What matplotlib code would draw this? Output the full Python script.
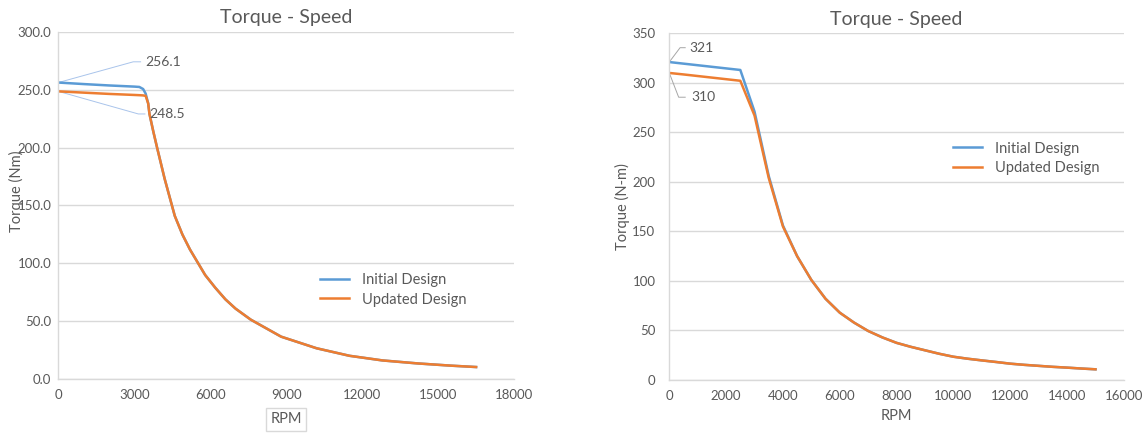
"""Torque-speed curves: initial vs. updated motor design, two operating envelopes."""

import matplotlib
matplotlib.use("Agg")
import matplotlib.pyplot as plt

# ── Data ──────────────────────────────────────────────────────────────────────

# Left envelope (smooth Excel-style curve)
rpm_a = [0, 1000, 2000, 3000, 3200, 3350, 3450, 3550, 3600, 3750, 3900, 4200,
         4600, 4900, 5200, 5800, 6200, 6600, 7000, 7600, 8800, 10200, 11500,
         12800, 14200, 15500, 16500]
initial_a = [256.1, 254.8, 253.6, 252.6, 252.3, 250.5, 246.5, 238.0, 229.0,
             214.0, 200.0, 173.0, 141.0, 125.0, 112.0, 90.0, 79.0, 69.0, 61.0,
             51.5, 36.8, 26.8, 20.3, 16.3, 13.7, 11.8, 10.6]
updated_a = [248.5, 247.4, 246.3, 245.4, 245.2, 245.0, 244.6, 238.0, 229.0,
             214.0, 200.0, 173.0, 141.0, 125.0, 112.0, 90.0, 79.0, 69.0, 61.0,
             51.5, 36.8, 26.8, 20.3, 16.3, 13.7, 11.8, 10.6]

# Right envelope (500 rpm steps)
rpm_b = [0, 500, 1000, 1500, 2000, 2500, 3000, 3500, 4000, 4500, 5000, 5500,
         6000, 6500, 7000, 7500, 8000, 8500, 9000, 9500, 10000, 10500, 11000,
         11500, 12000, 12500, 13000, 13500, 14000, 14500, 15000]
initial_b = [321, 319.4, 317.8, 316.2, 314.6, 313, 271, 206, 156, 125, 101,
             82, 68, 58, 49.5, 43, 37.5, 33.5, 30, 26.5, 23.5, 21.5, 19.8,
             18.2, 16.5, 15.3, 14.3, 13.3, 12.5, 11.6, 10.8]
updated_b = [310, 308.5, 306.9, 305.3, 303.7, 302.1, 267, 204, 155, 125, 101,
             82, 68, 58, 49.5, 43, 37.5, 33.5, 30, 26.5, 23.5, 21.5, 19.8,
             18.2, 16.5, 15.3, 14.3, 13.3, 12.5, 11.6, 10.8]

SERIES = ["Initial Design", "Updated Design"]
BLUE = "#5B9BD5"
ORANGE = "#ED7D31"
GRID = "#D9D9D9"
TEXT = "#595959"

plt.rcParams["font.family"] = ["Lato", "DejaVu Sans"]


def style_axes(ax):
    for side in ("top", "right"):
        ax.spines[side].set_visible(False)
    for side in ("left", "bottom"):
        ax.spines[side].set_color(GRID)
        ax.spines[side].set_linewidth(1.0)
    ax.grid(axis="y", color=GRID, linewidth=1.0)
    ax.set_axisbelow(True)
    ax.tick_params(length=0, labelsize=9.5, labelcolor=TEXT)
    ax.set_title("Torque - Speed", fontsize=14, color=TEXT, pad=6)


def leader(ax, label, xy, elbow, end, text_xy, color):
    ax.plot([xy[0], elbow[0], end[0]], [xy[1], elbow[1], end[1]],
            color=color, linewidth=0.7, zorder=1)
    ax.text(text_xy[0], text_xy[1], label, fontsize=10, color=TEXT,
            va="center", ha="left")


fig = plt.figure(figsize=(11.48, 4.34), dpi=100)

# ── Left chart ────────────────────────────────────────────────────────────────
ax1 = fig.add_axes([0.0508, 0.126, 0.397, 0.801])
ax1.plot(rpm_a, initial_a, color=BLUE, linewidth=1.8, label=SERIES[0])
ax1.plot(rpm_a, updated_a, color=ORANGE, linewidth=1.8, label=SERIES[1])
ax1.set_xlim(0, 18000)
ax1.set_ylim(0, 300)
ax1.set_xticks(range(0, 18001, 3000))
ax1.set_yticks(range(0, 301, 50))
ax1.yaxis.set_major_formatter(lambda v, _: f"{v:.1f}")
ax1.tick_params(axis="y", pad=5)
ax1.tick_params(axis="x", pad=7)
style_axes(ax1)
ax1.set_xlabel("RPM", fontsize=10.5, color=TEXT, labelpad=8,
               bbox=dict(boxstyle="square,pad=0.3", facecolor="white",
                         edgecolor=GRID, linewidth=1.0))
# the axis title sits over the tick labels, as in the original workbook chart
ax1.set_ylabel("Torque (Nm)", fontsize=10.5, color=TEXT)
ax1.yaxis.set_label_coords(-0.075, 0.54)
leader(ax1, f"{initial_a[0]:.1f}", (rpm_a[0], initial_a[0]), (2960, 274),
       (3250, 274), (3420, 274), "#A9C4EB")
leader(ax1, f"{updated_a[0]:.1f}", (rpm_a[0], updated_a[0]), (3160, 229),
       (3420, 229), (3580, 229), "#A9C4EB")
ax1.legend(loc="center left", bbox_to_anchor=(0.545, 0.257), frameon=False,
           fontsize=10.5, labelcolor=TEXT, handlelength=2.0,
           handletextpad=0.9, labelspacing=0.35)

# ── Right chart ───────────────────────────────────────────────────────────────
ax2 = fig.add_axes([0.583, 0.1244, 0.396, 0.7988])
ax2.plot(rpm_b, initial_b, color=BLUE, linewidth=1.8, label=SERIES[0])
ax2.plot(rpm_b, updated_b, color=ORANGE, linewidth=1.8, label=SERIES[1])
ax2.set_xlim(0, 16000)
ax2.set_ylim(0, 350)
ax2.set_xticks(range(0, 16001, 2000))
ax2.set_yticks(range(0, 351, 50))
ax2.tick_params(axis="y", pad=10)
ax2.tick_params(axis="x", pad=7)
style_axes(ax2)
ax2.set_xlabel("RPM", fontsize=10.5, color=TEXT, labelpad=5)
ax2.set_ylabel("Torque (N-m)", fontsize=10.5, color=TEXT)
ax2.yaxis.set_label_coords(-0.086, 0.50)
leader(ax2, f"{initial_b[0]:d}", (rpm_b[0], initial_b[0]), (380, 335.5),
       (560, 335.5), (700, 335.5), "#A6A6A6")
leader(ax2, f"{updated_b[0]:d}", (rpm_b[0], updated_b[0]), (330, 285.5),
       (560, 285.5), (760, 285.5), "#A6A6A6")
ax2.legend(loc="center left", bbox_to_anchor=(0.595, 0.64), frameon=False,
           fontsize=10.5, labelcolor=TEXT, handlelength=2.0,
           handletextpad=0.9, labelspacing=0.35)

fig.savefig("out.png", dpi=100)
